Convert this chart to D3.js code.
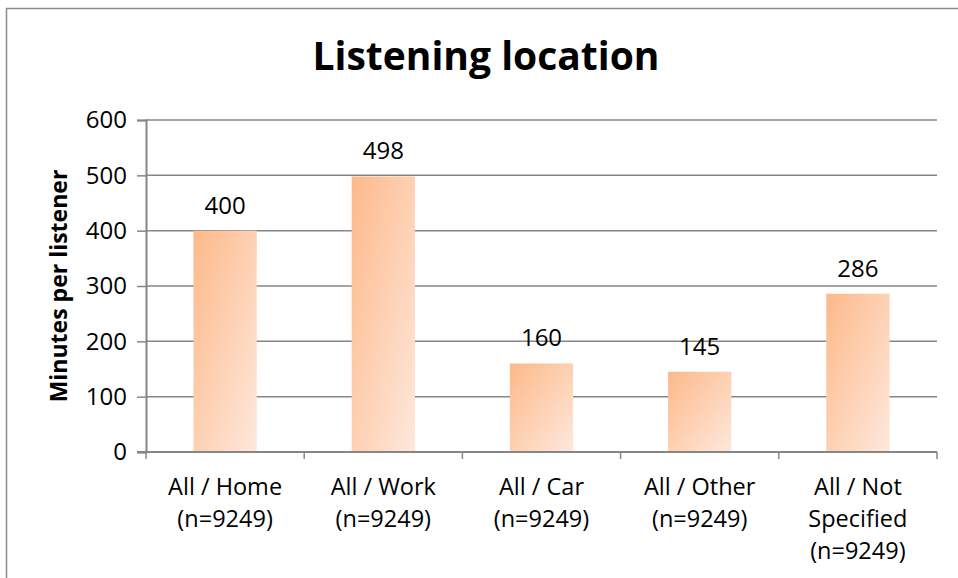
<!DOCTYPE html>
<html>
<head>
<meta charset="utf-8">
<script src="https://cdn.jsdelivr.net/npm/d3@7"></script>
<style>
  html, body { margin: 0; padding: 0; background: #fff; }
  svg { display: block; }
  text { font-family: "Open Sans", sans-serif; fill: #000; }
</style>
</head>
<body>
<svg id="chart" width="958" height="578"></svg>
<script>
const title = "Listening location";
const yAxisTitle = "Minutes per listener";
const categories = [
  ["All / Home", "(n=9249)"],
  ["All / Work", "(n=9249)"],
  ["All / Car", "(n=9249)"],
  ["All / Other", "(n=9249)"],
  ["All / Not", "Specified", "(n=9249)"]
];
const values = [400, 498, 160, 145, 286];
const yTicks = [0, 100, 200, 300, 400, 500, 600];

const svg = d3.select("#chart");
const W = 958, H = 578;
const plot = { left: 146, right: 937, top: 120, bottom: 452 };
const FONT = "'Open Sans', sans-serif";

// outer border
svg.append("rect")
  .attr("x", 6.5).attr("y", 8.5)
  .attr("width", W + 20).attr("height", H + 20)
  .attr("fill", "none").attr("stroke", "#8c8c8c").attr("stroke-width", 1.5);

// gradient
const defs = svg.append("defs");
const grad = defs.append("linearGradient").attr("id", "barGrad")
  .attr("x1", 0).attr("y1", 0).attr("x2", 1).attr("y2", 1);
grad.append("stop").attr("offset", "0%").attr("stop-color", "#fdb98a");
grad.append("stop").attr("offset", "100%").attr("stop-color", "#fee8dc");

const idx = d3.range(categories.length);
const x = d3.scaleBand().domain(idx).range([plot.left, plot.right]).padding(0);
const y = d3.scaleLinear().domain([0, 600]).range([plot.bottom, plot.top]);

// gridlines
svg.append("g").selectAll("line").data(yTicks.filter(t => t > 0)).join("line")
  .attr("x1", plot.left).attr("x2", plot.right)
  .attr("y1", d => y(d)).attr("y2", d => y(d))
  .attr("stroke", "#868686").attr("stroke-width", 1.5);

// bars
const barW = x.bandwidth() / 2.5;
svg.append("g").selectAll("rect").data(values).join("rect")
  .attr("x", (d, i) => x(i) + (x.bandwidth() - barW) / 2)
  .attr("width", barW)
  .attr("y", d => y(d))
  .attr("height", d => y(0) - y(d))
  .attr("fill", "url(#barGrad)");

// y axis
const yAxis = d3.axisLeft(y).tickValues(yTicks).tickSize(9).tickPadding(10);
const gy = svg.append("g").attr("transform", `translate(${plot.left},0)`).call(yAxis);
gy.select(".domain").attr("stroke", "#868686").attr("stroke-width", 2);
gy.selectAll(".tick line").attr("stroke", "#868686").attr("stroke-width", 1.5);
gy.selectAll(".tick text").style("font-size", "24px").style("font-family", FONT).attr("fill", "#000");

// x axis
const xAxis = d3.axisBottom(x).tickSize(0).tickFormat("");
const gx = svg.append("g").attr("transform", `translate(0,${plot.bottom})`).call(xAxis);
gx.select(".domain").remove();
svg.append("line").attr("x1", plot.left - 9).attr("x2", plot.right)
  .attr("y1", plot.bottom).attr("y2", plot.bottom)
  .attr("stroke", "#868686").attr("stroke-width", 2);
const bounds = idx.map(i => x(i)).concat([plot.right]);
svg.append("g").selectAll("line").data(bounds).join("line")
  .attr("x1", d => d).attr("x2", d => d)
  .attr("y1", plot.bottom).attr("y2", plot.bottom + 7)
  .attr("stroke", "#868686").attr("stroke-width", 1.5);

// category labels
const lab = svg.append("g").selectAll("text").data(categories).join("text")
  .attr("text-anchor", "middle")
  .style("font-size", "23.5px");
lab.each(function(lines, i) {
  const t = d3.select(this);
  lines.forEach((l, k) => {
    t.append("tspan").attr("x", x(i) + x.bandwidth() / 2)
      .attr("y", 495 + k * 32).text(l);
  });
});

// data labels
svg.append("g").selectAll("text").data(values).join("text")
  .attr("x", (d, i) => x(i) + x.bandwidth() / 2)
  .attr("y", d => y(d) - 17)
  .attr("text-anchor", "middle")
  .style("font-size", "24px")
  .text(d => d);

// title
svg.append("text").attr("x", 486).attr("y", 70)
  .attr("text-anchor", "middle")
  .style("font-size", "39px").style("font-weight", "bold")
  .text(title);

// y axis title
svg.append("text")
  .attr("transform", "translate(67,286) rotate(-90)")
  .attr("text-anchor", "middle")
  .style("font-size", "23px").style("font-weight", "bold")
  .text(yAxisTitle);
</script>
</body>
</html>
